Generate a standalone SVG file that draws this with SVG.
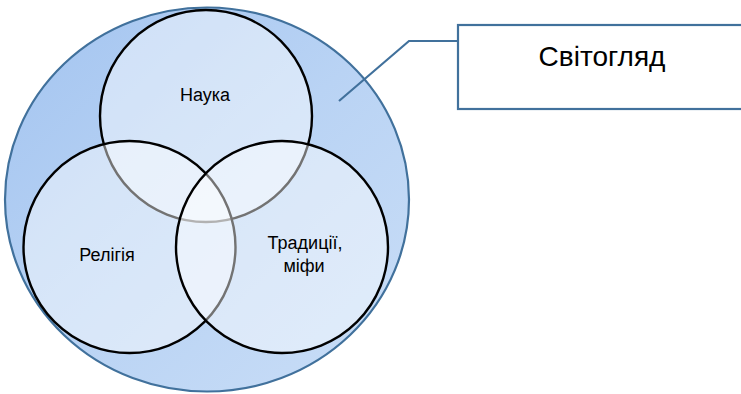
<svg xmlns="http://www.w3.org/2000/svg" width="741" height="394" viewBox="0 0 741 394">
<defs>
<linearGradient id="bg" x1="0" y1="0" x2="1" y2="1">
<stop offset="0" stop-color="#a3c4f0"/>
<stop offset="0.5" stop-color="#b9d3f4"/>
<stop offset="1" stop-color="#cadef7"/>
</linearGradient>
</defs>
<style>
.outer{fill:url(#bg);stroke:#41719c;stroke-width:2.2}
.c{fill:#ffffff;fill-opacity:0.45;stroke:#000;stroke-width:2.4}
.t{font-family:"Liberation Sans",Arial,sans-serif;font-size:18px;fill:#000;text-anchor:middle}
.box{fill:#fff;stroke:#41719c;stroke-width:2.2}
.lead{fill:none;stroke:#41719c;stroke-width:2.2}
.bt{font-family:"Liberation Sans",Arial,sans-serif;font-size:28px;fill:#000;text-anchor:middle}
</style>
<g id="svitohliad-area">
<ellipse class="outer" cx="207" cy="199.5" rx="202" ry="192"/>
</g>
<g id="nauka">
<circle class="c" cx="206" cy="116" r="106"/>
<text class="t" x="205" y="101">Наука</text>
</g>
<g id="relihiia">
<circle class="c" cx="129.5" cy="247" r="106"/>
<text class="t" x="107" y="261">Релігія</text>
</g>
<g id="tradytsii">
<circle class="c" cx="282" cy="247" r="106"/>
<text class="t" x="305" y="249">Традиції,</text>
<text class="t" x="304" y="272">міфи</text>
</g>
<g id="connectors">
<polyline class="lead" points="339,101 409,41 458,41"/>
</g>
<g id="svitohliad">
<rect class="box" x="458" y="25" width="300" height="84"/>
<text class="bt" x="602" y="66">Світогляд</text>
</g>
</svg>
